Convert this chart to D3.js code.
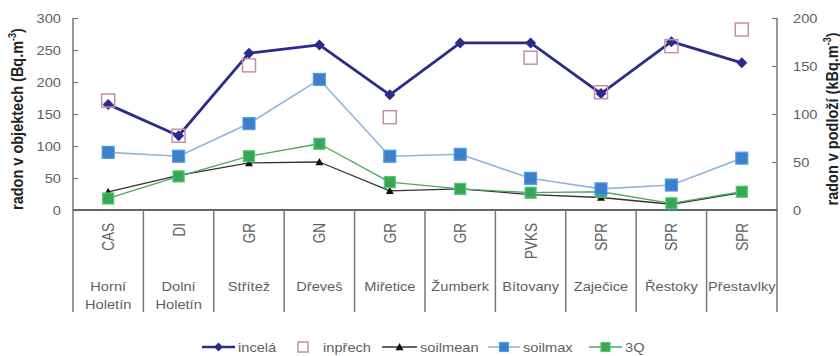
<!DOCTYPE html>
<html>
<head>
<meta charset="utf-8">
<script src="https://cdn.jsdelivr.net/npm/d3@7/dist/d3.min.js"></script>
<style>
  html, body { margin: 0; padding: 0; background: #fff; }
  svg { display: block; font-family: "Liberation Sans", Arial, sans-serif; }
</style>
</head>
<body>
<svg id="chart" width="840" height="356"></svg>
<script>
// Sites: geological code and locality name (two-line names split by "\n")
const codes = ["CAS", "DI", "GR", "GN", "GR", "GR", "PVKS", "SPR", "SPR", "SPR"];
const places = ["Horní\nHoletín", "Dolní\nHoletín", "Střítež", "Dřeveš", "Miřetice",
                "Žumberk", "Bítovany", "Zaječice", "Řestoky", "Přestavlky"];

// Indoor radon (Bq.m-3), left axis
const incela  = [165, 116, 245, 258, 180, 261, 261, 182, 263, 230];
const inprech = [171, 116, 226, null, 145, null, 238, 184, 256, 282];

// Soil-gas radon (kBq.m-3), right axis
const soilmean = [19, 36, 49, 50, 20, 22, 16, 13, 6, 18];
const soilmax  = [60, 56, 90, 136, 56, 58, 33, 22, 26, 54];
const q3       = [12, 35, 56, 69, 29, 22, 18, 19, 7, 19];

const leftTicks  = [0, 50, 100, 150, 200, 250, 300];
const rightTicks = [0, 50, 100, 150, 200];

const svg = d3.select("#chart");
const L = 73, R = 777, T = 18, B = 210, boxBottom = 312;
const SX = 1.22; // horizontal text stretch used throughout the figure

const x = d3.scaleBand().domain(d3.range(codes.length)).range([L, R]).padding(0);
const cx = i => x(i) + x.bandwidth() / 2;
const yL = d3.scaleLinear().domain([0, 300]).range([B, T]);
const yR = d3.scaleLinear().domain([0, 200]).range([B, T]);

const axisColor = "#777";
const textColor = "#5f5f5f";

// Horizontal text, widened by SX around its anchor point
function label(px, py, str, anchor, size, color) {
  return svg.append("text")
    .attr("transform", `translate(${px},${py}) scale(${SX},1)`)
    .attr("text-anchor", anchor || "start")
    .attr("font-size", size || 12)
    .attr("fill", color || textColor)
    .text(str);
}

// Inward tick marks from the axis generators
const gL = svg.append("g").attr("transform", `translate(${L},0)`)
  .call(d3.axisLeft(yL).tickValues(leftTicks).tickSizeInner(-5).tickSizeOuter(0).tickFormat(""));
const gR = svg.append("g").attr("transform", `translate(${R},0)`)
  .call(d3.axisRight(yR).tickValues(rightTicks).tickSizeInner(-5).tickSizeOuter(0).tickFormat(""));
[gL, gR].forEach(g => {
  g.select(".domain").remove();
  g.selectAll(".tick line").attr("stroke", axisColor).attr("stroke-width", 1.2);
});

// Tick labels
leftTicks.forEach(v => label(61, yL(v) + 4.5, v, "end"));
rightTicks.forEach(v => label(793, yR(v) + 4.5, v, "start"));

// Axis lines, extended down through the category table
svg.append("line").attr("x1", L).attr("x2", L).attr("y1", T).attr("y2", boxBottom)
  .attr("stroke", axisColor).attr("stroke-width", 1.5);
svg.append("line").attr("x1", R).attr("x2", R).attr("y1", T).attr("y2", boxBottom)
  .attr("stroke", axisColor).attr("stroke-width", 1.5);
svg.append("line").attr("x1", L).attr("x2", R).attr("y1", B).attr("y2", B)
  .attr("stroke", "#666").attr("stroke-width", 2);

// Category table dividers
svg.selectAll("line.div").data(d3.range(1, codes.length)).join("line")
  .attr("class", "div")
  .attr("x1", i => x(i)).attr("x2", i => x(i))
  .attr("y1", B).attr("y2", boxBottom)
  .attr("stroke", axisColor).attr("stroke-width", 1.5);

// Geological codes, rotated, top-aligned under the axis
svg.selectAll("text.code").data(codes).join("text")
  .attr("class", "code")
  .attr("transform", (d, i) => `translate(${cx(i)},223) scale(${SX},1) rotate(-90)`)
  .attr("text-anchor", "end")
  .attr("dy", "0.36em")
  .attr("font-size", 13.5).attr("fill", textColor)
  .text(d => d);

// Locality names
places.forEach((d, i) => {
  d.split("\n").forEach((ln, k) => label(cx(i), 291 + k * 18, ln, "middle", 12));
});

// Axis titles
function axisTitle(px, str) {
  const t = svg.append("text")
    .attr("transform", `translate(${px},${(T + B) / 2 + 5}) scale(1.15,1) rotate(-90)`)
    .attr("text-anchor", "middle").attr("font-size", 14.5).attr("font-weight", "bold").attr("fill", "#222");
  t.append("tspan").text(str);
  t.append("tspan").attr("dy", -6).attr("font-size", 9).text("-3");
  t.append("tspan").attr("dy", 6).text(")");
}
axisTitle(23, "radon v objektech (Bq.m");
axisTitle(838, "radon v podloží (kBq.m");

// Series definitions
const series = [
  { name: "soilmean", values: soilmean, y: yR, line: "#333333", lw: 1.3, marker: "triangle", fill: "#111", size: 8 },
  { name: "3Q",       values: q3,       y: yR, line: "#4aa860", lw: 1.3, marker: "square", fill: "#3ca457", size: 11 },
  { name: "soilmax",  values: soilmax,  y: yR, line: "#92b4dc", lw: 1.6, marker: "square", fill: "#3f7fc5", size: 12 },
  { name: "incelá",   values: incela,   y: yL, line: "#2c2b8a", lw: 2.8, marker: "diamond", fill: "#2c2b8a", size: 11 },
];

function drawMarker(g, type, size, fill, stroke) {
  const h = size / 2;
  if (type === "square") {
    g.append("rect").attr("x", -h).attr("y", -h).attr("width", size).attr("height", size)
      .attr("fill", fill).attr("stroke", stroke || "none").attr("stroke-width", 1.2);
  } else if (type === "diamond") {
    g.append("path").attr("d", `M0,${-h}L${h},0L0,${h}L${-h},0Z`).attr("fill", fill);
  } else if (type === "triangle") {
    g.append("path").attr("d", `M0,${-h}L${h},${h * 0.8}L${-h},${h * 0.8}Z`).attr("fill", fill);
  } else if (type === "open") {
    g.append("rect").attr("x", -h).attr("y", -h).attr("width", size).attr("height", size)
      .attr("fill", "none").attr("stroke", stroke).attr("stroke-width", 1.5);
  }
}

series.forEach(s => {
  const line = d3.line().x((d, i) => cx(i)).y(d => s.y(d));
  svg.append("path").datum(s.values)
    .attr("d", line).attr("fill", "none")
    .attr("stroke", s.line).attr("stroke-width", s.lw).attr("stroke-linejoin", "round");
  s.values.forEach((v, i) => {
    const g = svg.append("g").attr("transform", `translate(${cx(i)},${s.y(v)})`);
    drawMarker(g, s.marker, s.size, s.fill, s.marker === "square" ? d3.color(s.fill).brighter(0.6) : null);
  });
});

// Indoor radon from the second campaign: open squares only
inprech.forEach((v, i) => {
  if (v == null) return;
  const g = svg.append("g").attr("transform", `translate(${cx(i)},${yL(v)})`);
  drawMarker(g, "open", 13, null, "#c68ea8");
});

// Legend
const legend = [
  { label: "incelá",   marker: "diamond",  line: "#2c2b8a", lw: 2.5, fill: "#2c2b8a", size: 9,  x0: 202, w: 33 },
  { label: "inpřech",  marker: "open",     line: null,      fill: null, stroke: "#c68ea8", size: 10, x0: 286, w: 34 },
  { label: "soilmean", marker: "triangle", line: "#333",    lw: 1.3, fill: "#111", size: 8, x0: 382, w: 35 },
  { label: "soilmax",  marker: "square",   line: "#92b4dc", lw: 1.6, fill: "#3f7fc5", size: 9, x0: 488, w: 32 },
  { label: "3Q",       marker: "square",   line: "#4aa860", lw: 1.3, fill: "#3ca457", size: 9, x0: 589, w: 33 },
];
const ly = 347;
legend.forEach(it => {
  const g = svg.append("g").attr("transform", `translate(${it.x0},${ly})`);
  if (it.line) {
    g.append("line").attr("x1", 0).attr("x2", it.w).attr("y1", 0).attr("y2", 0)
      .attr("stroke", it.line).attr("stroke-width", it.lw);
  }
  const m = g.append("g").attr("transform", `translate(${it.w / 2},0)`);
  drawMarker(m, it.marker, it.size, it.fill, it.stroke || (it.marker === "square" ? d3.color(it.fill).brighter(0.6) : null));
  label(it.x0 + it.w + 3, ly + 4.5, it.label, "start", 12);
});
</script>
</body>
</html>
